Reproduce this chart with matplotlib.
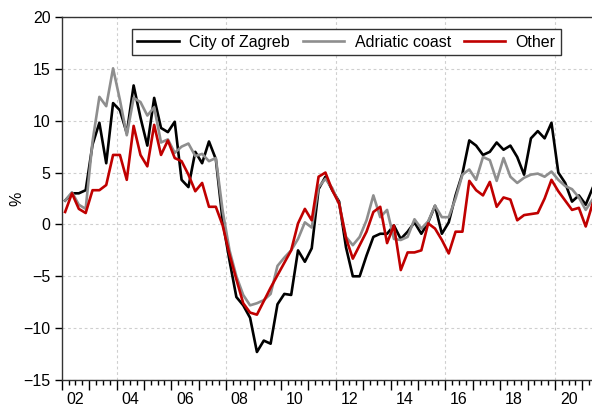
import numpy as np
import matplotlib
matplotlib.use('Agg')
import matplotlib.pyplot as plt

plt.rcParams['font.family'] = ['Liberation Sans', 'DejaVu Sans']

#%% data, quarterly from 2002Q1 (y-o-y change, %)
start_year = 2002
zagreb = [2.3, 3.0, 3.0, 3.3, 7.7, 9.8, 5.9, 11.7, 11.0, 8.8, 13.4, 10.3, 7.6, 12.2, 9.3, 8.9,
          9.9, 4.3, 3.6, 7.0, 5.9, 8.0, 6.3, 0.3, -3.5, -7.0, -7.8, -9.0, -12.3, -11.2, -11.5, -7.7,
          -6.7, -6.8, -2.5, -3.6, -2.3, 3.4, 4.6, 3.3, 2.2, -2.2, -5.0, -5.0, -3.0, -1.2, -0.9, -0.9,
          -0.1, -1.4, -0.7, 0.2, -0.9, 0.2, 1.8, -0.9, 0.2, 2.8, 4.9, 8.1, 7.6, 6.7, 7.0, 7.9,
          7.2, 7.6, 6.5, 4.8, 8.3, 9.0, 8.3, 9.8, 5.0, 4.0, 2.2, 2.8, 1.9, 3.5]
adriatic = [2.3, 3.1, 1.9, 1.5, 8.0, 12.3, 11.4, 15.05, 12.0, 8.6, 12.2, 11.8, 10.5, 11.3, 7.9, 8.2,
            6.9, 7.5, 7.8, 6.6, 6.8, 6.1, 6.4, 1.3, -2.5, -5.0, -6.8, -7.8, -7.6, -7.3, -6.7, -4.0,
            -3.2, -2.5, -1.4, 0.2, -0.3, 3.6, 4.4, 3.5, 2.0, -1.2, -2.0, -1.2, 0.4, 2.8, 0.7, 1.4,
            -1.4, -1.5, -1.2, 0.5, -0.4, 0.3, 1.8, 0.7, 0.7, 2.5, 4.8, 5.3, 4.3, 6.5, 6.2, 4.2,
            6.4, 4.6, 4.0, 4.5, 4.8, 4.9, 4.6, 5.1, 4.3, 3.7, 3.4, 2.6, 1.4, 2.4]
other = [1.2, 3.0, 1.5, 1.1, 3.3, 3.3, 3.8, 6.7, 6.7, 4.3, 9.5, 6.7, 5.6, 9.6, 6.7, 8.1,
         6.4, 6.1, 4.8, 3.2, 4.0, 1.7, 1.7, -0.1, -2.9, -5.3, -7.6, -8.5, -8.7, -7.4, -6.1, -4.9,
         -3.7, -2.5, 0.1, 1.5, 0.4, 4.6, 5.0, 3.3, 2.0, -1.3, -3.3, -2.0, -0.7, 1.2, 1.7, -1.8,
         -0.1, -4.4, -2.7, -2.7, -2.5, 0.1, -0.4, -1.5, -2.8, -0.7, -0.7, 4.2, 3.3, 2.8, 4.1, 1.7,
         2.6, 2.4, 0.4, 0.9, 1.0, 1.1, 2.5, 4.3, 3.2, 2.3, 1.4, 1.6, -0.2, 2.0]
series_names = ['City of Zagreb', 'Adriatic coast', 'Other']
year_labels = ['02', '04', '06', '08', '10', '12', '14', '16', '18', '20']

#%% plot
colours = ['#000000', '#8e8e8e', '#c00000']
t = start_year + (np.arange(len(zagreb)) + 0.5) / 4

fig = plt.figure(figsize=(5.92, 4.12), dpi=100)
ax = fig.add_axes([61.7 / 592, 32 / 412, 534.3 / 592, 363 / 412])

for count, s in enumerate([zagreb, adriatic, other]):
    ax.plot(t, s, color=colours[count], lw=1.9, label=series_names[count], zorder=3)

ax.set_xlim(2002, 2021.5)
ax.set_ylim(-15, 20)
ax.set_yticks(np.arange(-15, 21, 5))

# grid: horizontal every 5, vertical every 4 years
ax.yaxis.grid(True, color='#cfcfcf', ls=(0, (2.5, 2.5)), lw=0.8)
for yr in range(2004, 2021, 4):
    ax.axvline(yr, color='#cfcfcf', ls=(0, (2.5, 2.5)), lw=0.8, zorder=1)

# year ticks long, quarter ticks short, labels at mid-year
ax.set_xticks(np.arange(2002, 2022))
ax.set_xticks(np.arange(2002, 2021.6, 0.25), minor=True)
ax.set_xticklabels([])
ax.tick_params(axis='x', which='major', direction='out', length=7, width=1)
ax.tick_params(axis='x', which='minor', direction='out', length=3.5, width=1)
ax.tick_params(axis='y', direction='out', length=5, width=1, labelsize=11.5, pad=3)
for k, lab in enumerate(year_labels):
    ax.text(2002.5 + 2 * k, -0.055, lab, transform=ax.get_xaxis_transform(),
            ha='center', va='center', fontsize=11.5)

for sp in ax.spines.values():
    sp.set_color('#333333')
    sp.set_linewidth(1)

ax.set_ylabel('%', fontsize=11.5)
ax.yaxis.set_label_coords(-0.07, 0.5)

leg = ax.legend(loc='upper center', bbox_to_anchor=(0.533, 0.967), ncol=3, fontsize=11.5,
                frameon=True, fancybox=False, edgecolor='#333333', framealpha=1,
                handlelength=2.6, handletextpad=0.65, columnspacing=0.8,
                borderpad=0.35, borderaxespad=0)
leg.get_frame().set_linewidth(1)

plt.savefig('out.png', dpi=100)
